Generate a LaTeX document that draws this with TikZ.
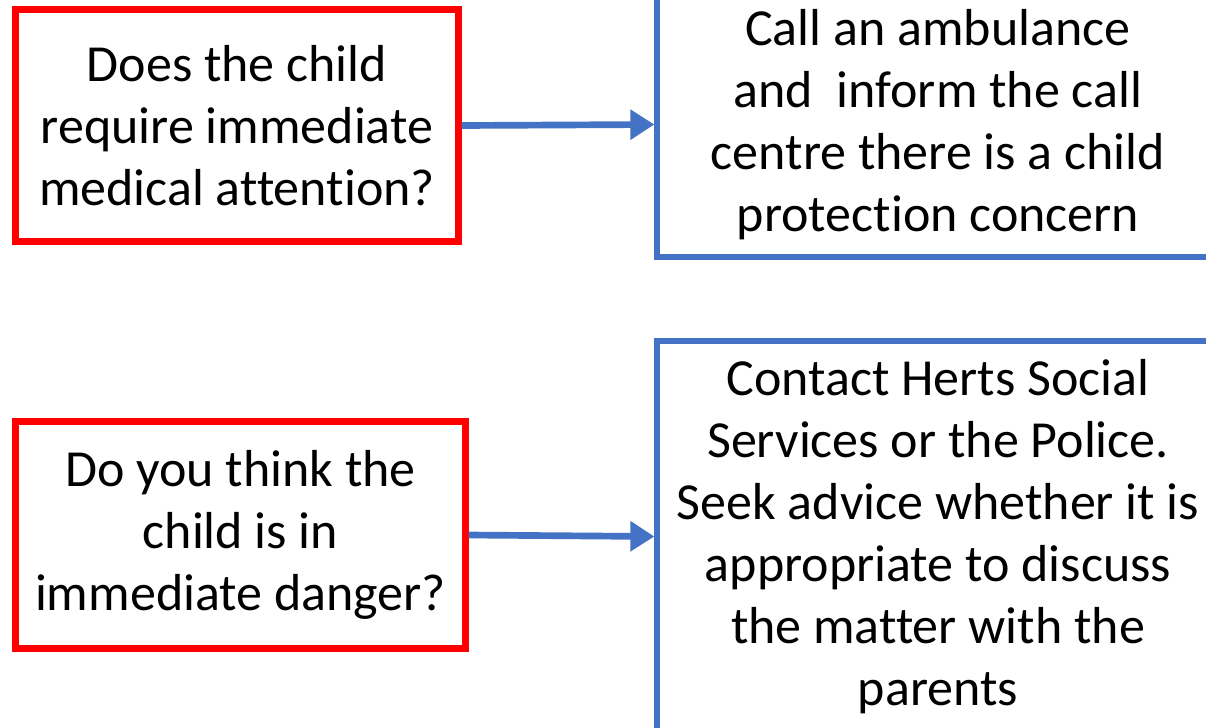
\documentclass[tikz,border=0pt]{standalone}
\usepackage{fontspec}
\setmainfont{Carlito}[RawFeature=-liga]
\usetikzlibrary{arrows.meta,positioning}
\definecolor{red}{RGB}{255,0,0}
\definecolor{blue}{RGB}{68,114,196}

\begin{document}
\begin{tikzpicture}
	\tikzset{line/.style={draw,line width=2.6pt}}
	\tikzset{arrow/.style={line,blue,line width=3.8pt,-{Triangle[length=0.48cm,width=0.58cm]}}}
	\tikzset{box/.style={shape=rectangle,align=center,inner sep=0pt,font=\fontsize{29.6}{35.3}\selectfont}}
	\tikzset{question/.style={line,box,red,line width=3.6pt,text=black}}
	\tikzset{action/.style={line,box,blue,line width=3pt,text=black,minimum width=11.24cm}}

	\useasboundingbox (0,0) rectangle (24.12,-14.54);
	\clip (0,0) rectangle (24.12,-14.54);

	% questions
	\node[question,minimum width=8.86cm,minimum height=4.64cm] (q1) at (4.74,-2.51) {Does the child\\require immediate\\medical attention?};
	\node[question,minimum width=9.0cm,minimum height=4.54cm] (q2) at (4.81,-10.7) {Do you think the\\child is in\\immediate danger?};

	% actions
	\node[action,minimum height=5.3cm] (a1) at (18.76,-2.49) {Call an ambulance\\and~ inform the call\\centre there is a child\\protection concern};
	\node[action,minimum height=7.82cm] (a2) at (18.76,-10.73) {Contact Herts Social\\Services or the Police.\\Seek advice whether it is\\appropriate to discuss\\the matter with the\\parents};

	\draw[arrow] (q1.east) to (a1.west);
	\draw[arrow] (q2.east) to (a2.west);
\end{tikzpicture}
\end{document}
